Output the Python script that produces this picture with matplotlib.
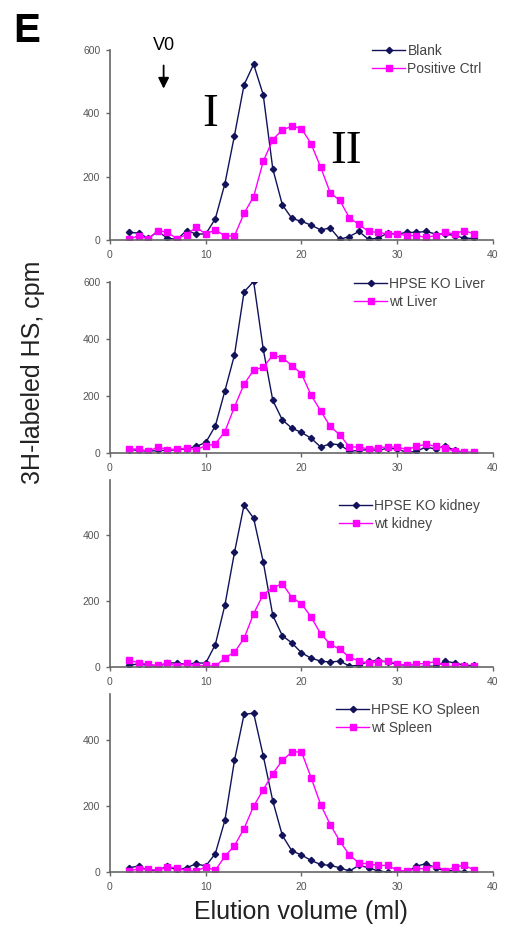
import matplotlib.pyplot as plt

plt.rcParams['font.family'] = ['Liberation Sans', 'DejaVu Sans']

# elution volume (ml) of each fraction
elution = [2, 3, 4, 5, 6, 7, 8, 9, 10, 11, 12, 13, 14, 15, 16, 17, 18, 19, 20,
           21, 22, 23, 24, 25, 26, 27, 28, 29, 30, 31, 32, 33, 34, 35, 36, 37, 38]

blank = [24, 22, 5, 27, 6, 2, 30, 19, 19, 67, 178, 330, 490, 555, 459, 225, 111, 68, 59,
         47, 32, 38, 2, 11, 27, 2, 6, 22, 19, 24, 24, 27, 19, 19, 14, 6, 5]
pos_ctrl = [2, 14, 3, 30, 24, 4, 17, 40, 19, 32, 13, 13, 84, 137, 248, 317, 348, 359, 352,
            304, 230, 149, 125, 70, 49, 27, 24, 19, 19, 14, 14, 8, 14, 24, 19, 30, 19]

ko_liver = [12, 9, 6, 9, 9, 12, 15, 23, 37, 95, 218, 344, 565, 602, 365, 185, 116, 87, 72,
            52, 21, 32, 29, 6, 9, 12, 9, 17, 14, 2, 6, 21, 14, 25, 9, 2, 2]
wt_liver = [14, 14, 6, 21, 12, 14, 17, 12, 25, 32, 75, 162, 241, 291, 301, 343, 334, 307, 278,
            203, 148, 93, 64, 21, 21, 14, 19, 21, 21, 12, 23, 31, 23, 17, 6, 2, 3]

ko_kidney = [5, 10, 5, 0, 13, 12, 8, 12, 12, 68, 188, 348, 492, 452, 320, 157, 95, 73, 43,
             27, 18, 15, 18, 3, 5, 17, 20, 15, 8, 5, 0, 3, 2, 17, 13, 5, 5]
wt_kidney = [20, 13, 8, 5, 12, 2, 12, 2, 5, 2, 28, 45, 87, 162, 220, 241, 253, 211, 192,
             152, 101, 69, 54, 30, 18, 12, 15, 18, 10, 5, 10, 10, 17, 2, 2, 2, 2]

ko_spleen = [13, 18, 5, 5, 18, 5, 13, 25, 18, 56, 157, 339, 479, 483, 354, 216, 111, 64, 52,
             35, 23, 20, 13, 3, 20, 13, 3, 0, 0, 0, 18, 25, 13, 3, 5, 0, 0]
wt_spleen = [3, 10, 8, 5, 15, 13, 3, 3, 15, 5, 48, 80, 132, 200, 250, 299, 339, 365, 365,
             287, 205, 144, 94, 52, 27, 25, 20, 20, 5, 3, 10, 10, 20, 3, 15, 20, 7]

panels = [
    (blank, pos_ctrl, 'Blank', 'Positive Ctrl'),
    (ko_liver, wt_liver, 'HPSE KO Liver', 'wt Liver'),
    (ko_kidney, wt_kidney, 'HPSE KO kidney', 'wt kidney'),
    (ko_spleen, wt_spleen, 'HPSE KO Spleen', 'wt Spleen'),
]
x_ticks = [0, 10, 20, 30, 40]

W, H = 506, 939
fig = plt.figure(figsize=(W / 100, H / 100), dpi=100)

# axes boxes in pixels: (y of zero line, y of top, ymax, yticks, legend x, legend top)
boxes = [
    (240, 50, 600, [0, 200, 400, 600], 372, 44),
    (453, 282, 600, [0, 200, 400, 600], 354, 277),
    (667, 480, 568, [0, 200, 400], 339, 499),
    (872, 694, 541, [0, 200, 400], 336, 703),
]

navy = '#12125a'
pink = '#ff00ff'
axes = []
for (ko, wt, lab1, lab2), (y0, ytop, ymax, yt, lx, ly) in zip(panels, boxes):
    ax = fig.add_axes([110 / W, 1 - y0 / H, 383 / W, (y0 - ytop) / H])
    ax.plot(elution, ko, color=navy, lw=1.0, marker='D', ms=3.2, label=lab1)
    ax.plot(elution, wt, color=pink, lw=1.0, marker='s', ms=3.8, label=lab2)
    ax.set_xlim(0, 40)
    ax.set_ylim(0, ymax)
    ax.set_xticks(x_ticks)
    ax.set_yticks(yt)
    for s in ['top', 'right']:
        ax.spines[s].set_visible(False)
    for s in ['left', 'bottom']:
        ax.spines[s].set_color('#666666')
        ax.spines[s].set_linewidth(1.2)
    ax.tick_params(direction='out', length=3, width=1, color='#666666',
                   labelsize=7.5, labelcolor='#555555', pad=4)
    ax.legend(loc='upper left', bbox_to_anchor=(lx / W, 1 - ly / H),
              bbox_transform=fig.transFigure, frameon=False, borderpad=0,
              borderaxespad=0, fontsize=10, handlelength=2.4, handletextpad=0.15,
              labelspacing=0.3, numpoints=1, labelcolor='#444444')
    axes.append(ax)

ax1 = axes[0]
ax1.annotate('V0', xy=(5.6, 478), xytext=(5.6, 613), ha='center', va='center',
             fontsize=13, annotation_clip=False,
             arrowprops=dict(arrowstyle='-|>', color='black', lw=1.3,
                             mutation_scale=16, shrinkA=6, shrinkB=0))
fig.text(210 / W, 1 - 115 / H, 'I', family='Liberation Serif', fontsize=34,
         ha='center', va='center')
fig.text(346 / W, 1 - 152 / H, 'II', family='Liberation Serif', fontsize=34,
         ha='center', va='center')

fig.text(13 / W, 1 - 12 / H, 'E', fontsize=29, weight='bold', ha='left', va='top')
fig.text(33 / W, 1 - 372 / H, '3H-labeled HS, cpm', fontsize=18, rotation=90,
         ha='center', va='center', color='#222222')
fig.text(301 / W, 1 - 912 / H, 'Elution volume (ml)', fontsize=18,
         ha='center', va='center', color='#222222')

fig.savefig('out.png', dpi=100)
